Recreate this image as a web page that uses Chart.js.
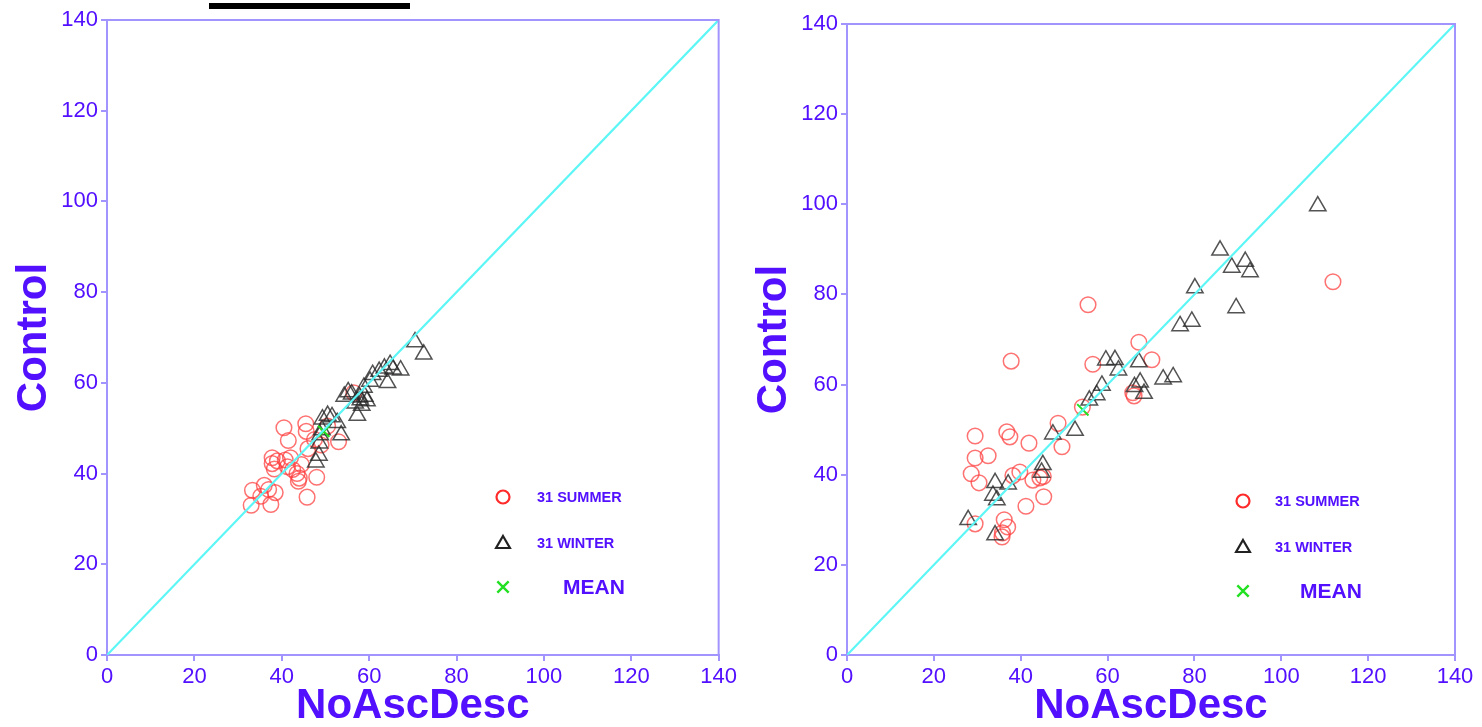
<!DOCTYPE html>
<html>
<head>
<meta charset="utf-8">
<script src="https://cdn.jsdelivr.net/npm/chart.js@4/dist/chart.umd.min.js"></script>
<style>
  html, body { margin: 0; padding: 0; background: #fff; }
  body { width: 1482px; height: 727px; position: relative; overflow: hidden; }
  .panel { position: absolute; top: 0; }
  #bar { position: absolute; left: 209px; top: 3px; width: 201px; height: 6px; background: #000; }
</style>
</head>
<body>
<div id="bar"></div>
<div class="panel" style="left:0px;"><canvas id="left" width="740" height="727"></canvas></div>
<div class="panel" style="left:740px;"><canvas id="right" width="742" height="727"></canvas></div>
<script>
// Axis range and tick spacing shared by both panels
const axisMin = 0;
const axisMax = 140;
const tickStep = 20;
const xTitle = 'NoAscDesc';
const yTitle = 'Control';
const legendLabels = ['31 SUMMER', '31 WINTER', 'MEAN'];

// Left panel: [NoAscDesc, Control]
const leftSummer = [
  [33.0,33.0],[33.3,36.3],[35.2,35.0],[36.0,37.4],[37.5,33.2],[37.0,36.5],[38.5,35.8],
  [37.8,43.5],[37.8,42.2],[39.0,42.8],[40.5,50.1],[41.5,47.3],[40.8,43.0],[41.3,41.5],
  [42.5,40.9],[43.5,40.0],[44.0,39.0],[45.5,51.0],[45.6,49.3],[45.8,34.8],[48.0,39.2],
  [46.0,45.5],[49.0,46.3],[53.0,47.0],[56.5,57.8],[42.0,43.5],[44.5,42.0],[50.5,50.5],
  [38.3,41.0],[43.8,38.3],[47.5,47.5]
];
const leftWinter = [
  [47.8,42.5],[48.5,44.0],[48.6,46.7],[48.8,48.5],[49.2,49.6],[49.3,52.0],[50.5,52.8],
  [51.5,52.5],[52.7,51.2],[53.6,48.5],[54.3,57.0],[55.2,58.0],[56.8,55.5],[57.3,52.8],
  [57.8,56.8],[58.3,55.0],[59.0,57.0],[59.5,56.0],[58.8,59.0],[60.2,60.3],[60.8,61.8],
  [62.3,62.5],[63.5,63.2],[64.2,60.0],[64.8,64.0],[65.5,63.0],[67.2,62.8],[70.5,69.0],
  [72.5,66.3],[56.0,57.5],[58.0,56.2]
];
const leftMean = [[49.6, 49.3]];

// Right panel: [NoAscDesc, Control]
const rightSummer = [
  [111.9,82.8],[55.5,77.7],[67.2,69.4],[70.2,65.5],[56.6,64.5],[37.8,65.2],[66.1,57.5],
  [54.2,55.0],[48.6,51.4],[49.5,46.2],[41.9,47.0],[36.8,49.5],[37.5,48.4],[29.5,48.6],
  [32.5,44.2],[29.5,43.7],[28.6,40.2],[30.4,38.2],[29.5,29.1],[36.2,30.0],[37.0,28.4],
  [35.8,27.1],[35.7,26.2],[38.2,39.8],[39.8,40.6],[41.2,33.0],[42.8,38.8],[44.4,39.3],
  [45.2,39.6],[45.3,35.1],[65.8,58.2]
];
const rightWinter = [
  [108.4,99.6],[85.9,89.8],[91.7,87.3],[88.6,86.0],[92.8,85.0],[89.6,77.0],[80.1,81.4],
  [79.4,74.0],[76.7,73.0],[75.1,61.7],[72.8,61.2],[67.2,65.0],[68.4,58.0],[67.5,60.5],
  [66.2,59.5],[61.7,65.5],[59.6,65.4],[62.5,63.2],[58.7,59.8],[57.5,57.7],[55.8,56.5],
  [52.5,49.8],[47.4,49.0],[45.1,42.2],[44.8,40.5],[34.1,38.2],[37.1,37.9],[33.6,35.4],
  [34.5,34.4],[27.9,30.0],[34.1,26.6]
];
const rightMean = [[54.3, 54.4]];

const TEXT = '#5210ff';
const AXIS = '#a294ff';
const SUMMER_COLOR = 'rgba(255,60,60,0.72)';
const WINTER_COLOR = 'rgba(40,40,40,0.8)';
const MEAN_COLOR = '#22e022';
const DIAG_COLOR = '#5cf6f6';
const FONT = '"Liberation Sans", Arial, Helvetica, sans-serif';

const toPoints = arr => arr.map(([x, y]) => ({ x, y }));

// Frame around the plotting area plus the in-plot key
const framePlugin = {
  id: 'frameAndKey',
  afterDraw(chart) {
    const { ctx, chartArea: a } = chart;
    ctx.save();
    ctx.strokeStyle = AXIS;
    ctx.lineWidth = 2;
    ctx.beginPath();
    ctx.moveTo(a.left, a.top);
    ctx.lineTo(a.right, a.top);
    ctx.lineTo(a.right, a.bottom);
    ctx.stroke();

    const key = chart.options.plugins.frameAndKey;
    const mx = a.left + 396;
    const rows = [a.top + 477, a.top + 523, a.top + 567];
    const styles = [
      { pointStyle: 'circle', radius: 6.5, borderWidth: 2.2, color: '#ff2a2a' },
      { pointStyle: 'triangle', radius: 8, borderWidth: 2.2, color: '#222' },
      { pointStyle: 'crossRot', radius: 8, borderWidth: 2.4, color: MEAN_COLOR }
    ];
    styles.forEach((s, i) => {
      ctx.strokeStyle = s.color;
      ctx.fillStyle = 'rgba(0,0,0,0)';
      ctx.lineWidth = s.borderWidth;
      Chart.helpers.drawPoint(ctx, { pointStyle: s.pointStyle, radius: s.radius, rotation: 0, borderWidth: s.borderWidth }, mx, rows[i] + (s.pointStyle === 'triangle' ? 1 : 0));
    });
    ctx.fillStyle = TEXT;
    ctx.textBaseline = 'middle';
    ctx.textAlign = 'left';
    ctx.font = 'bold 14.5px ' + FONT;
    ctx.fillText(legendLabels[0], a.left + key.textOffset, rows[0] + 1);
    ctx.fillText(legendLabels[1], a.left + key.textOffset, rows[1] + 1);
    ctx.font = 'bold 21px ' + FONT;
    ctx.fillText(legendLabels[2], a.left + key.meanOffset, rows[2] + 1);
    ctx.restore();
  }
};

function makeChart(id, summer, winter, mean, pad, key) {
  const axisCommon = {
    type: 'linear',
    min: axisMin,
    max: axisMax,
    border: { display: true, color: AXIS, width: 2 },
    grid: { display: true, drawOnChartArea: false, drawTicks: true, tickLength: 6, color: AXIS, lineWidth: 2 },
    ticks: { stepSize: tickStep, color: TEXT, font: { family: FONT, size: 22 }, padding: 3, maxRotation: 0, autoSkip: false }
  };
  return new Chart(document.getElementById(id), {
    type: 'scatter',
    data: {
      datasets: [
        {
          type: 'line', data: [{ x: axisMin, y: axisMin }, { x: axisMax, y: axisMax }],
          borderColor: DIAG_COLOR, borderWidth: 2.2, pointRadius: 0, order: 0
        },
        {
          label: legendLabels[2], data: toPoints(mean), pointStyle: 'crossRot',
          pointRadius: 8, borderColor: MEAN_COLOR, borderWidth: 2, backgroundColor: 'rgba(0,0,0,0)', order: 1
        },
        {
          label: legendLabels[1], data: toPoints(winter), pointStyle: 'triangle',
          pointRadius: 9.5, borderColor: WINTER_COLOR, borderWidth: 1.5, backgroundColor: 'rgba(0,0,0,0)', order: 2
        },
        {
          label: legendLabels[0], data: toPoints(summer), pointStyle: 'circle',
          pointRadius: 7.8, borderColor: SUMMER_COLOR, borderWidth: 1.5, backgroundColor: 'rgba(0,0,0,0)', order: 3
        }
      ]
    },
    options: {
      responsive: false,
      animation: false,
      devicePixelRatio: 1,
      layout: { padding: pad },
      plugins: {
        legend: { display: false },
        tooltip: { enabled: false },
        frameAndKey: key
      },
      scales: {
        x: Object.assign({}, axisCommon, {
          position: 'bottom',
          title: { display: true, text: xTitle, color: TEXT, font: { family: FONT, size: 42, weight: 'bold', lineHeight: 1 }, padding: { top: 0, bottom: 0 } },
          afterFit(s) { s.height = 72; }
        }),
        y: Object.assign({}, axisCommon, {
          position: 'left',
          title: { display: true, text: yTitle, color: TEXT, font: { family: FONT, size: 42, weight: 'bold', lineHeight: 1 }, padding: { top: 13, bottom: 0 } },
          afterFit(s) { s.width = 107; }
        })
      }
    },
    plugins: [framePlugin]
  });
}

makeChart('left', leftSummer, leftWinter, leftMean, { left: 0, right: 19, top: 20, bottom: 0 }, { textOffset: 430, meanOffset: 456 });
makeChart('right', rightSummer, rightWinter, rightMean, { left: 0, right: 27, top: 24, bottom: 0 }, { textOffset: 428, meanOffset: 453 });
</script>
</body>
</html>
